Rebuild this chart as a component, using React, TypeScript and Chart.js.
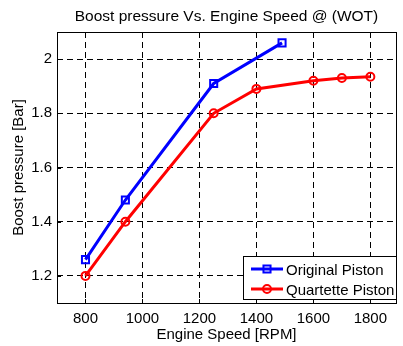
import React, { useEffect, useRef } from 'react';
import { Chart, registerables } from 'chart.js';

Chart.register(...registerables);

const titleText = 'Boost pressure Vs. Engine Speed @ (WOT)';
const xAxisTitle = 'Engine Speed [RPM]';
const yAxisTitle = 'Boost pressure [Bar]';
const seriesNames = ['Original Piston', 'Quartette Piston'];
const seriesColors = ['#0000ff', '#ff0000'];

const rpmOriginal = [800, 940, 1250, 1490];
const boostOriginal = [1.26, 1.48, 1.91, 2.06];
const rpmQuartette = [800, 940, 1250, 1400, 1600, 1700, 1800];
const boostQuartette = [1.2, 1.4, 1.8, 1.89, 1.92, 1.93, 1.935];

const xTicks = [800, 1000, 1200, 1400, 1600, 1800];
const yTicks = [1.2, 1.4, 1.6, 1.8, 2];
const xRange = [700, 1890];
const yRange = [1.1, 2.1];

const FONT = '"Liberation Sans", Arial, Helvetica, sans-serif';

const decor = {
  id: 'decor',
  afterDraw(chart: any) {
    const { ctx, chartArea: a, scales } = chart;
    ctx.save();
    ctx.setLineDash([]);
    ctx.strokeStyle = '#000';
    ctx.lineWidth = 1;
    // axes box
    ctx.strokeRect(Math.round(a.left) + 0.5, Math.round(a.top) + 0.5, a.right - a.left, a.bottom - a.top);
    // inward tick marks
    ctx.beginPath();
    xTicks.forEach((v) => {
      const px = Math.round(scales.x.getPixelForValue(v)) + 0.5;
      ctx.moveTo(px, a.bottom);
      ctx.lineTo(px, a.bottom - 4);
      ctx.moveTo(px, a.top);
      ctx.lineTo(px, a.top + 4);
    });
    yTicks.forEach((v) => {
      const py = Math.round(scales.y.getPixelForValue(v)) + 0.5;
      ctx.moveTo(a.left, py);
      ctx.lineTo(a.left + 4, py);
    });
    ctx.stroke();

    // title
    const cx = (a.left + a.right) / 2;
    ctx.fillStyle = '#000';
    ctx.font = `15.5px ${FONT}`;
    ctx.textAlign = 'center';
    ctx.textBaseline = 'alphabetic';
    ctx.fillText(titleText, cx, 21);
    // x axis title
    ctx.font = `15px ${FONT}`;
    ctx.fillText(xAxisTitle, cx, 339);
    // y axis title
    ctx.save();
    ctx.translate(23, (a.top + a.bottom) / 2);
    ctx.rotate(-Math.PI / 2);
    ctx.fillText(yAxisTitle, 0, 0);
    ctx.restore();

    // legend
    const lx = 243, ly = 256, lw = 153, lh = 43;
    ctx.fillStyle = '#fff';
    ctx.fillRect(lx, ly, lw, lh);
    ctx.strokeStyle = '#000';
    ctx.lineWidth = 1;
    ctx.strokeRect(lx + 0.5, ly + 0.5, lw, lh);
    chart.data.datasets.forEach((ds: any, i: number) => {
      const y = 269 + i * 20;
      ctx.strokeStyle = ds.borderColor;
      ctx.lineWidth = 3;
      ctx.beginPath();
      ctx.moveTo(251, y);
      ctx.lineTo(283, y);
      ctx.stroke();
      ctx.lineWidth = 2;
      ctx.beginPath();
      if (ds.pointStyle === 'rect') {
        const s = ds.pointRadius * Math.SQRT1_2;
        ctx.rect(267 - s, y - s, 2 * s, 2 * s);
      } else {
        ctx.arc(267, y, ds.pointRadius, 0, Math.PI * 2);
      }
      ctx.stroke();
      ctx.fillStyle = '#000';
      ctx.font = `15px ${FONT}`;
      ctx.textAlign = 'left';
      ctx.textBaseline = 'alphabetic';
      ctx.fillText(ds.label, 286, y + 6);
    });
    ctx.restore();
  },
};

export default function App() {
  const ref = useRef<HTMLCanvasElement>(null);
  useEffect(() => {
    if (!ref.current) return;
    const chart = new Chart(ref.current, {
      type: 'line',
      data: {
        datasets: [
          {
            label: seriesNames[0],
            data: rpmOriginal.map((x, i) => ({ x, y: boostOriginal[i] })),
            borderColor: seriesColors[0],
            backgroundColor: 'rgba(0,0,0,0)',
            borderWidth: 3,
            pointStyle: 'rect',
            pointRadius: 5,
            pointBorderWidth: 2,
            pointBorderColor: seriesColors[0],
            pointBackgroundColor: 'rgba(0,0,0,0)',
            tension: 0,
          },
          {
            label: seriesNames[1],
            data: rpmQuartette.map((x, i) => ({ x, y: boostQuartette[i] })),
            borderColor: seriesColors[1],
            backgroundColor: 'rgba(0,0,0,0)',
            borderWidth: 3,
            pointStyle: 'circle',
            pointRadius: 4,
            pointBorderWidth: 2,
            pointBorderColor: seriesColors[1],
            pointBackgroundColor: 'rgba(0,0,0,0)',
            tension: 0,
          },
        ],
      } as any,
      options: {
        animation: false,
        responsive: false,
        devicePixelRatio: 1,
        layout: { padding: { top: 32, left: 0, right: 0, bottom: 0 } },
        plugins: {
          legend: { display: false },
          title: { display: false },
          tooltip: { enabled: false },
        },
        scales: {
          x: {
            type: 'linear',
            min: xRange[0],
            max: xRange[1],
            afterBuildTicks: (s: any) => {
              s.ticks = xTicks.map((v) => ({ value: v }));
            },
            afterFit: (s: any) => {
              s.height = 43;
            },
            grid: { color: '#000', lineWidth: 1, drawTicks: false },
            border: { display: false, dash: [6, 4] },
            ticks: {
              color: '#000',
              font: { family: FONT, size: 15 },
              padding: 7,
              maxRotation: 0,
              autoSkip: false,
              callback: (v: any) => String(v),
            },
          },
          y: {
            type: 'linear',
            min: yRange[0],
            max: yRange[1],
            afterBuildTicks: (s: any) => {
              s.ticks = yTicks.map((v) => ({ value: v }));
            },
            afterFit: (s: any) => {
              s.width = 57;
            },
            grid: { color: '#000', lineWidth: 1, drawTicks: false },
            border: { display: false, dash: [6, 4] },
            ticks: {
              color: '#000',
              font: { family: FONT, size: 15 },
              padding: 5,
              autoSkip: false,
              callback: (v: any) => String(v),
            },
          },
        },
      } as any,
      plugins: [decor],
    });
    return () => chart.destroy();
  }, []);
  return (
    <div style={{ position: 'fixed', left: 0, top: 0, width: 403, height: 346, background: '#fff' }}>
      <canvas ref={ref} width={403} height={346} style={{ display: 'block' }} />
    </div>
  );
}
